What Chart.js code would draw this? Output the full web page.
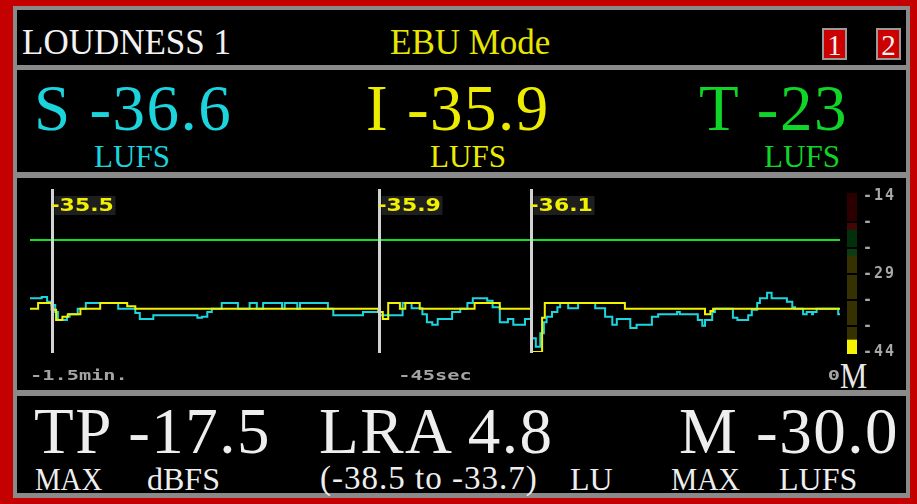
<!DOCTYPE html>
<html>
<head>
<meta charset="utf-8">
<script src="https://cdn.jsdelivr.net/npm/chart.js@4.4.0/dist/chart.umd.min.js"></script>
<style>
  html, body { margin: 0; padding: 0; }
  body { width: 917px; height: 504px; position: relative; overflow: hidden; background: #c40000; font-family: "Liberation Serif", serif; }
  .frame { position: absolute; left: 13px; top: 6px; width: 897px; height: 492px; background: #8a8a8a; }
  .panel { position: absolute; left: 17px; width: 889px; background: #000; }
  .t { position: absolute; white-space: nowrap; line-height: 1; transform-origin: 0 0; }
  .big { font-size: 65px; letter-spacing: 1.5px; }
  .sub { font-size: 32px; color: #eeeeee; }
  .box { position: absolute; top: 28px; width: 21px; height: 28px; background: #cc0000; border: 2px solid #9a9a9a;
         color: #f4f4f4; font-size: 29px; line-height: 30px; text-align: center; }
  canvas { position: absolute; }
</style>
</head>
<body>
<div class="frame"></div>
<div class="panel" style="top:10px;height:55px"></div>
<div class="panel" style="top:70px;height:102px"></div>
<div class="panel" style="top:178px;height:212px"></div>
<div class="panel" style="top:396px;height:97px"></div>

<div class="t" style="left:22px;top:25px;font-size:35px;color:#f2f2f2">LOUDNESS 1</div>
<div class="t" style="left:390px;top:25px;font-size:35px;color:#e6e600">EBU Mode</div>
<div class="box" style="left:822px">1</div>
<div class="box" style="left:876px">2</div>

<div class="t big" style="left:34px;top:76px;color:#1cd4dc">S -36.6</div>
<div class="t big" style="left:366px;top:76px;color:#ecec00">I -35.9</div>
<div class="t big" style="left:699px;top:76px;color:#10d428">T -23</div>
<div class="t" style="left:94px;top:140px;font-size:32px;color:#1cd4dc;transform:scaleX(0.97)">LUFS</div>
<div class="t" style="left:430px;top:140px;font-size:32px;color:#ecec00;transform:scaleX(0.97)">LUFS</div>
<div class="t" style="left:764px;top:140px;font-size:32px;color:#10d428;transform:scaleX(0.97)">LUFS</div>

<div class="t" style="left:840px;top:358px;font-size:36px;color:#e8e8e8;transform:scaleX(0.85)">M</div>

<div class="t big" style="left:34px;top:399px;color:#eeeeee">TP -17.5</div>
<div class="t big" style="left:319px;top:399px;color:#eeeeee">LRA 4.8</div>
<div class="t big" style="left:679px;top:399px;color:#eeeeee">M -30.0</div>
<div class="t sub" style="left:35px;top:463px;transform:scaleX(0.9)">MAX</div>
<div class="t sub" style="left:147px;top:463px">dBFS</div>
<div class="t sub" style="left:320px;top:462px;font-size:33px;letter-spacing:1px">(-38.5 to -33.7)</div>
<div class="t sub" style="left:570px;top:463px">LU</div>
<div class="t sub" style="left:671px;top:463px;transform:scaleX(0.92)">MAX</div>
<div class="t sub" style="left:779px;top:463px">LUFS</div>

<canvas id="graph" width="889" height="212" style="left:17px;top:178px"></canvas>
<canvas id="meter" width="60" height="212" style="left:846px;top:178px"></canvas>

<script>
// loudness history, seconds before now
const shortTermT = [-90.0, -88.7, -88.1, -87.6, -87.2, -86.9, -85.9, -85.6, -84.7, -83.8,
  -80.2, -78.3, -77.8, -76.3, -71.4, -70.9, -70.3, -69.8, -68.7, -66.9,
  -65.6, -64.8, -64.1, -62.0, -61.7, -60.3, -60.0, -56.9, -56.3, -53.0,
  -51.1, -48.6, -47.6, -46.4, -45.9, -45.3, -44.7, -43.1, -42.2, -41.4,
  -40.8, -39.2, -38.6, -37.8, -36.9, -36.3, -35.0, -34.3, -33.8, -33.3,
  -32.9, -32.6, -32.0, -31.4, -31.1, -30.2, -29.1, -27.2, -26.1, -25.3,
  -24.8, -23.3, -22.6, -20.9, -20.2, -18.1, -17.8, -15.8, -15.3, -15.0,
  -14.2, -13.9, -11.9, -11.4, -10.2, -9.8, -9.2, -8.9, -8.1, -7.6,
  -5.9, -5.3, -5.0, -4.1, -3.7, -3.1, -3.0, -2.6, -0.2, 0];
const shortTermL = [-33.9, -33.7, -34.6, -35.2, -36.5, -38.0, -37.4, -36.9, -35.9, -34.8,
  -35.9, -36.7, -37.8, -37.1, -37.6, -37.4, -36.5, -35.9, -34.8, -35.9,
  -34.8, -35.9, -34.8, -35.9, -34.8, -35.9, -34.8, -35.9, -37.1, -36.5,
  -37.1, -34.8, -35.8, -36.9, -38.4, -38.9, -37.8, -36.5, -35.9, -34.8,
  -33.9, -34.4, -35.6, -38.4, -37.8, -38.9, -37.8, -41.4, -43.0, -40.5,
  -38.4, -37.4, -36.5, -35.6, -34.8, -35.8, -34.8, -35.8, -37.4, -38.9,
  -37.8, -39.5, -38.9, -37.4, -36.9, -36.5, -36.9, -38.0, -39.1, -38.0,
  -36.5, -35.9, -37.6, -38.0, -37.1, -36.1, -34.8, -33.9, -32.9, -33.9,
  -34.6, -35.6, -35.9, -36.9, -36.5, -36.9, -36.5, -35.9, -36.9, -36.9];

const integratedT = [-90.0, -89.1, -87.6, -87.1, -86.4, -85.8, -84.4, -82.2, -79.2, -78.3,
  -51.3, -50.8, -50.2, -48.9, -48.3, -46.7, -40.6, -37.8, -34.3, -33.1,
  -32.8, -23.9, -15.0, -14.4, -14.1, 0];
const integratedL = [-35.9, -34.8, -36.1, -38.0, -37.4, -36.9, -35.9, -34.8, -35.4, -35.9,
  -36.5, -37.8, -34.8, -35.9, -34.8, -35.9, -34.8, -35.9, -44.0, -37.6,
  -34.8, -35.9, -36.9, -36.3, -35.9, -35.9];

const targetLUFS = -23;
const markerT = [-87.6, -51.2, -34.3];
const markerValues = [-35.5, -35.9, -36.1];
const timeTicks = [-90, -45, 0];
const timeTickLabels = ['-1.5min.', '-45sec', '0'];

// momentary bar meter
const meterTicks = [-44, -39, -34, -29, -24, -19, -14];
const meterTickLabels = ['-44', '-', '-', '-29', '-', '-', '-14'];
const meterMin = -44.4, meterMax = -13.4;
const momentaryLUFS = -41.7;
const meterEdges = [momentaryLUFS, -25.5, -24, -20.5, -19];
const meterColors = ['#f4f400', '#363100', '#0b3d14', '#02300a', '#420606', '#2c0000'];

const toXY = (ts, ls) => ts.map((t, i) => ({ x: t, y: ls[i] }));

const overlay = {
  id: 'overlay',
  afterDatasetsDraw(chart) {
    const { ctx, chartArea, scales: { x, y } } = chart;
    ctx.save();
    markerT.forEach((t, i) => {
      const px = Math.round(x.getPixelForValue(t)) + 0.5;
      ctx.strokeStyle = '#d2d2d2';
      ctx.lineWidth = 3;
      ctx.beginPath();
      ctx.moveTo(px, chartArea.top - 3);
      ctx.lineTo(px, y.getPixelForValue(-44) + 1);
      ctx.stroke();
      ctx.fillStyle = '#1e1e1e';
      ctx.fillRect(px + 2, chartArea.top + 4, 61, 19);
      ctx.save();
      ctx.translate(px - 2, chartArea.top + 19);
      ctx.scale(1.22, 1);
      ctx.font = 'bold 18px "DejaVu Sans"';
      ctx.fillStyle = '#f0f000';
      ctx.textAlign = 'left';
      ctx.fillText(markerValues[i].toFixed(1), 0, 0);
      ctx.restore();
    });
    timeTicks.forEach((t, i) => {
      ctx.save();
      ctx.translate(x.getPixelForValue(t), chartArea.bottom + 28);
      ctx.scale(1.45, 1);
      ctx.font = 'bold 14px "DejaVu Sans Mono"';
      ctx.fillStyle = '#a4a4a4';
      ctx.textAlign = i === 0 ? 'left' : (i === timeTicks.length - 1 ? 'right' : 'center');
      ctx.fillText(timeTickLabels[i], 0, 0);
      ctx.restore();
    });
    ctx.restore();
  }
};

new Chart(document.getElementById('graph').getContext('2d'), {
  type: 'line',
  data: {
    datasets: [
      { label: 'Integrated', data: toXY(integratedT, integratedL), borderColor: '#f2f200', borderWidth: 2, stepped: true, pointRadius: 0 },
      { label: 'Short-term', data: toXY(shortTermT, shortTermL), borderColor: '#1cd6df', borderWidth: 2, stepped: true, pointRadius: 0 },
      { label: 'Target', data: [{ x: -90, y: targetLUFS }, { x: 0, y: targetLUFS }], borderColor: '#12e024', borderWidth: 2, pointRadius: 0 }
    ]
  },
  options: {
    responsive: false,
    animation: false,
    layout: { padding: { left: 13, right: 66, top: 14, bottom: 38 } },
    scales: {
      x: { type: 'linear', min: -90, max: 0, display: false },
      y: { min: -44, max: -14, display: false }
    },
    plugins: { legend: { display: false }, tooltip: { enabled: false } }
  },
  plugins: [overlay]
});

const bounds = [meterMin, ...meterEdges, meterMax];
const meterSets = meterColors.map((c, i) => ({
  data: [[bounds[i], bounds[i + 1]]],
  backgroundColor: c,
  borderWidth: 0
}));

new Chart(document.getElementById('meter').getContext('2d'), {
  type: 'bar',
  data: { labels: ['M'], datasets: meterSets },
  options: {
    responsive: false,
    animation: false,
    layout: { padding: { left: 1, right: 0, top: 11, bottom: 36 } },
    datasets: { bar: { barPercentage: 1, categoryPercentage: 1, grouped: false } },
    scales: {
      x: { display: false },
      y: {
        position: 'right',
        min: meterMin,
        max: meterMax,
        afterBuildTicks: (ax) => { ax.ticks = meterTicks.map(v => ({ value: v })); },
        afterFit: (s) => { s.width = 49; },
        grid: {
          z: 1,
          drawTicks: false,
          lineWidth: 2,
          color: (c) => (c.tick && (c.tick.value === -14 || c.tick.value === -44)) ? 'rgba(0,0,0,0)' : '#000'
        },
        border: { display: false },
        ticks: {
          autoSkip: false,
          padding: 6,
          color: '#a8a8a8',
          font: { family: 'DejaVu Sans Mono', size: 15, weight: 'bold' },
          callback: (v) => meterTickLabels[meterTicks.indexOf(v)]
        }
      }
    },
    plugins: { legend: { display: false }, tooltip: { enabled: false } }
  },
  plugins: [{ id: 'spacing', beforeDraw(c) { c.ctx.letterSpacing = '2px'; } }]
});
</script>
</body>
</html>
